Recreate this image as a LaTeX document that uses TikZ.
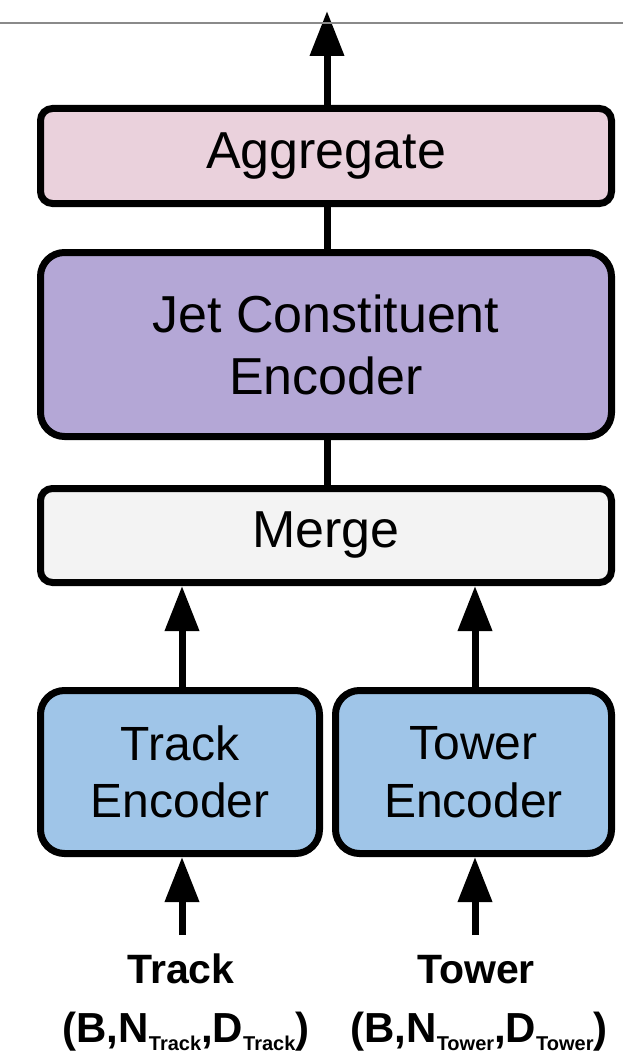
\documentclass[tikz,border=0pt]{standalone}
\usepackage{fontspec}
\setmainfont{Liberation Sans}
\usetikzlibrary{arrows.meta}
\definecolor{aggfill}{HTML}{EAD1DC}
\definecolor{jcefill}{HTML}{B4A7D6}
\definecolor{mergefill}{HTML}{F3F3F3}
\definecolor{encfill}{HTML}{9FC5E8}
\definecolor{rulegray}{HTML}{8A8A8A}
\newcommand{\subtxt}[1]{\raisebox{-8pt}{\fontsize{20}{20}\selectfont\bfseries #1}}
\tikzset{
  box/.style={draw=black, line width=7pt, align=center, inner sep=0pt},
  bigtext/.style={font=\fontsize{52}{62}\selectfont},
  enctext/.style={font=\fontsize{48}{57.5}\selectfont},
  lbl/.style={font=\fontsize{41}{48}\selectfont\bfseries, inner sep=0pt, anchor=base},
  dimlbl/.style={font=\fontsize{42}{48}\selectfont\bfseries, inner sep=0pt, anchor=base},
  conn/.style={line width=7pt},
  arr/.style={line width=7pt, -{Triangle[width=33pt,length=45pt]}},
}
\begin{document}
\begin{tikzpicture}[x=1pt,y=-1pt]
\useasboundingbox (0,0) rectangle (623,1054);
\node[box, bigtext, fill=aggfill, minimum width=571pt, minimum height=95pt, rounded corners=12pt] (agg) at (326,156) {Aggregate};
\node[box, bigtext, fill=jcefill, minimum width=571pt, minimum height=184pt, rounded corners=24pt] (jce) at (326,344.5) {Jet Constituent\\Encoder};
\node[box, bigtext, fill=mergefill, minimum width=571pt, minimum height=94pt, rounded corners=12pt] (merge) at (326,535.5) {Merge};
\node[box, enctext, fill=encfill, minimum width=279pt, minimum height=163pt, rounded corners=24pt] (trkenc) at (180,772) {Track\\Encoder};
\node[box, enctext, fill=encfill, minimum width=276pt, minimum height=163pt, rounded corners=24pt] (towenc) at (473.5,772) {Tower\\Encoder};
\node[lbl] (trk) at (181,983) {Track};
\node[dimlbl] (trkdim) at (186,1042) {(B,N\subtxt{Track},D\subtxt{Track})};
\node[lbl] (tow) at (476,983) {Tower};
\node[dimlbl] (towdim) at (479,1042) {(B,N\subtxt{Tower},D\subtxt{Tower})};
\coordinate (out) at (327,11);
\coordinate (trkin) at (182,935);
\coordinate (towin) at (475,935);
\coordinate (ruleL) at (0,23);
\coordinate (ruleR) at (623,23);
\draw[conn] (agg.south -| out) -- (jce.north -| out);
\draw[conn] (jce.south -| out) -- (merge.north -| out);
\draw[arr] (agg.north -| out) -- (out);
\draw[arr] (trkenc.north -| trkin) -- (merge.south -| trkin);
\draw[arr] (towenc.north -| towin) -- (merge.south -| towin);
\draw[arr] (trkin) -- (trkenc.south -| trkin);
\draw[arr] (towin) -- (towenc.south -| towin);
\draw[rulegray, line width=1.5pt] (ruleL) -- (ruleR);
\end{tikzpicture}
\end{document}
